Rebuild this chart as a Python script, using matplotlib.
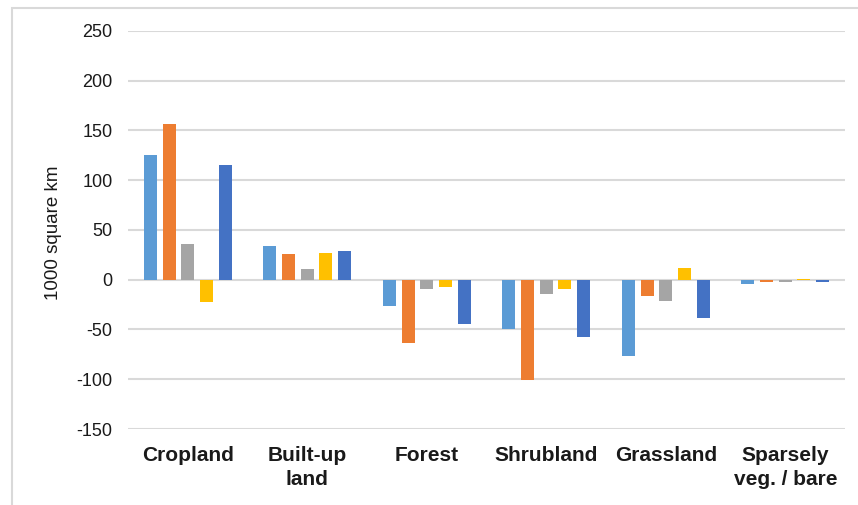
import matplotlib.pyplot as plt
import numpy as np
from matplotlib.patches import Rectangle

plt.rcParams['font.family'] = ['Liberation Sans', 'DejaVu Sans']

# Land cover change per class, one value per series
categories = ['Cropland', 'Built-up\nland', 'Forest', 'Shrubland', 'Grassland', 'Sparsely\nveg. / bare']
series_a = [125, 34, -26, -49, -77, -4]
series_b = [157, 26, -64, -101, -16, -2]
series_c = [36, 11, -9, -14, -21, -2]
series_d = [-22, 27, -7, -9, 12, 1]
series_e = [115, 29, -44, -58, -38, -2]
yticks = [-150, -100, -50, 0, 50, 100, 150, 200, 250]

colors = ['#5B9BD5', '#ED7D31', '#A5A5A5', '#FFC000', '#4472C4']
all_series = [series_a, series_b, series_c, series_d, series_e]

fig = plt.figure(figsize=(8.58, 5.05), dpi=100)
ax = fig.add_axes([128 / 858, 1 - 429 / 505, 717 / 858, 398 / 505])

# outer chart frame
fig.add_artist(Rectangle((12 / 858, -0.1), 1.2, 1 - 8 / 505 + 0.1,
                         transform=fig.transFigure, fill=False,
                         edgecolor='#D9D9D9', lw=1.5))

x = np.arange(len(categories))
step = 0.156
width = 0.109
for i, (vals, c) in enumerate(zip(all_series, colors)):
    ax.bar(x + (i - 2) * step, vals, width=width, color=c, zorder=3)

ax.set_xlim(-0.5, len(categories) - 0.5)
ax.set_ylim(-150, 250)
ax.set_yticks(yticks)
ax.set_yticklabels([str(v) for v in yticks], fontsize=13, color='#1a1a1a')
ax.grid(axis='y', color='#D9D9D9', lw=1.5, zorder=0)
ax.tick_params(axis='y', length=0, pad=11)
ax.set_xticks(x)
ax.set_xticklabels(categories, fontsize=15, fontweight='bold', color='#1a1a1a',
                   linespacing=1.35)
ax.tick_params(axis='x', length=0, pad=12)
for s in ax.spines.values():
    s.set_visible(False)

fig.text(54 / 858, 1 - 233 / 505, '1000 square km', rotation=90,
         ha='center', va='center', fontsize=13.5, color='#1a1a1a')

fig.savefig('out.png', dpi=100)
